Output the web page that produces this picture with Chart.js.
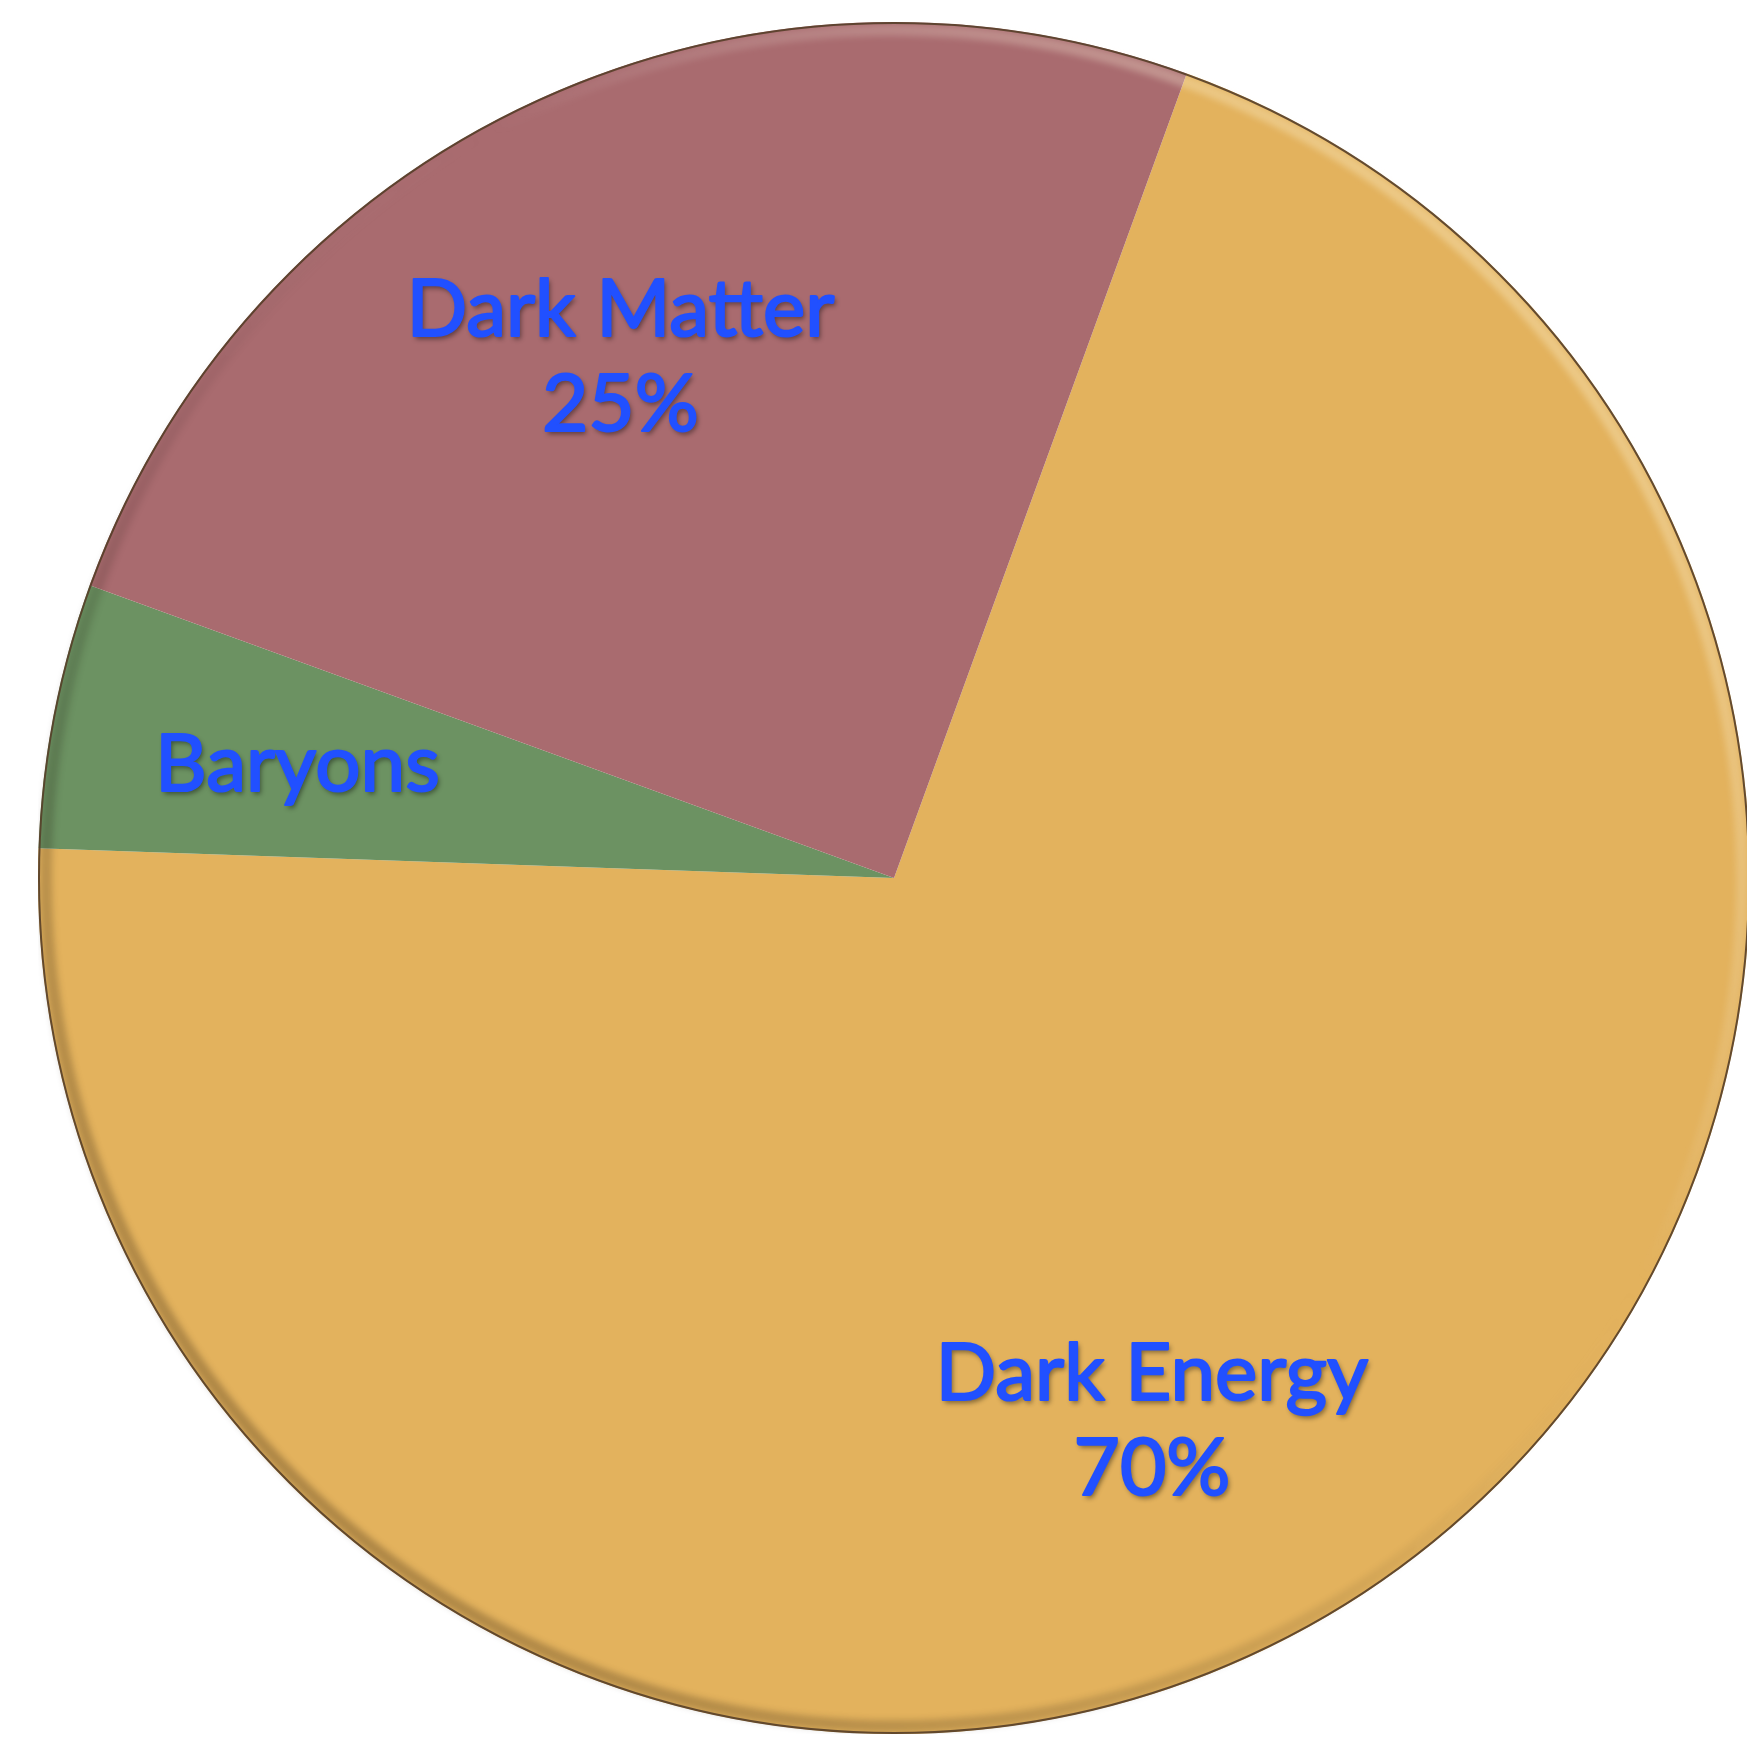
<!DOCTYPE html>
<html>
<head>
<meta charset="utf-8">
<title>Cosmic composition</title>
<script src="https://cdn.jsdelivr.net/npm/chart.js@4/dist/chart.umd.min.js"></script>
<style>
  html, body { margin: 0; padding: 0; background: #ffffff; overflow: hidden; }
  body { width: 1747px; height: 1746px; position: relative; }
  #pieWrap { position: absolute; left: 38px; top: 22px; width: 1712px; height: 1712px; }
</style>
</head>
<body>
<div id="pieWrap"><canvas id="energyPie"></canvas></div>
<script>
// slices, clockwise from the start angle
const categories = ['Dark Energy', 'Baryons', 'Dark Matter'];
const shares = [70, 5, 25];
const showPercent = [true, false, true];
const sliceColors = ['#e3b25d', '#6c9262', '#a96b6f'];

// where each label sits: angle nudge (deg) and fraction of the radius
const labelPlacement = [
    { nudge: 8.5, frac: 0.70 },
    { nudge: 0, frac: 0.71 },
    { nudge: -2.6, frac: 0.69 }
];

// soft bevel + dark outline round the pie
const rimPlugin = {
    id: 'rim',
    afterDatasetsDraw(chart) {
        const arc = chart.getDatasetMeta(0).data[0];
        if (!arc) return;
        const { x, y, outerRadius } = arc;
        const ctx = chart.ctx;
        ctx.save();
        const g = ctx.createLinearGradient(x - outerRadius, y + outerRadius, x + outerRadius, y - outerRadius);
        g.addColorStop(0, 'rgba(70,45,20,0.4)');
        g.addColorStop(0.45, 'rgba(0,0,0,0.05)');
        g.addColorStop(0.6, 'rgba(255,255,255,0)');
        g.addColorStop(1, 'rgba(255,240,190,0.55)');
        ctx.filter = 'blur(3px)';
        ctx.lineWidth = 12;
        ctx.strokeStyle = g;
        ctx.beginPath();
        ctx.arc(x, y, outerRadius - 8, 0, Math.PI * 2);
        ctx.stroke();
        ctx.filter = 'none';
        ctx.lineWidth = 2;
        ctx.strokeStyle = 'rgba(85,62,40,0.9)';
        ctx.beginPath();
        ctx.arc(x, y, outerRadius - 1, 0, Math.PI * 2);
        ctx.stroke();
        ctx.restore();
    }
};

// blue names (and percentages) drawn inside the slices
const sliceLabels = {
    id: 'sliceLabels',
    afterDatasetsDraw(chart) {
        const ctx = chart.ctx;
        const meta = chart.getDatasetMeta(0);
        const values = chart.data.datasets[0].data;
        ctx.save();
        ctx.font = '80px Lato, "Open Sans", sans-serif';
        ctx.fillStyle = '#2150ff';
        ctx.strokeStyle = '#2150ff';
        ctx.lineWidth = 2.2;
        ctx.lineJoin = 'round';
        ctx.textAlign = 'center';
        ctx.textBaseline = 'alphabetic';
        meta.data.forEach((arc, i) => {
            const place = labelPlacement[i];
            const mid = (arc.startAngle + arc.endAngle) / 2 + place.nudge * Math.PI / 180;
            const r = arc.outerRadius * place.frac;
            const cx = arc.x + Math.cos(mid) * r;
            const cy = arc.y + Math.sin(mid) * r;
            const lines = [chart.data.labels[i]];
            if (showPercent[i]) lines.push(values[i] + '%');
            const lineGap = 95;
            const capH = 58;
            // vertical centre of the block from first cap top to last baseline
            const blockH = capH + lineGap * (lines.length - 1);
            let base = cy - blockH / 2 + capH;
            lines.forEach(t => {
                ctx.shadowColor = 'rgba(0,0,0,0.45)';
                ctx.shadowBlur = 5;
                ctx.shadowOffsetX = 2;
                ctx.shadowOffsetY = 3;
                ctx.fillText(t, cx, base);
                ctx.shadowColor = 'transparent';
                ctx.strokeText(t, cx, base);
                ctx.fillText(t, cx, base);
                base += lineGap;
            });
        });
        ctx.restore();
    }
};

new Chart(document.getElementById('energyPie'), {
    type: 'pie',
    data: {
        labels: categories,
        datasets: [{
            data: shares,
            backgroundColor: sliceColors,
            borderWidth: 0,
            hoverOffset: 0,
            offset: 0
        }]
    },
    options: {
        responsive: true,
        maintainAspectRatio: false,
        animation: false,
        rotation: 20,
        layout: { padding: 0 },
        plugins: {
            legend: { display: false },
            tooltip: { enabled: false }
        },
        events: []
    },
    plugins: [rimPlugin, sliceLabels]
});
</script>
</body>
</html>
